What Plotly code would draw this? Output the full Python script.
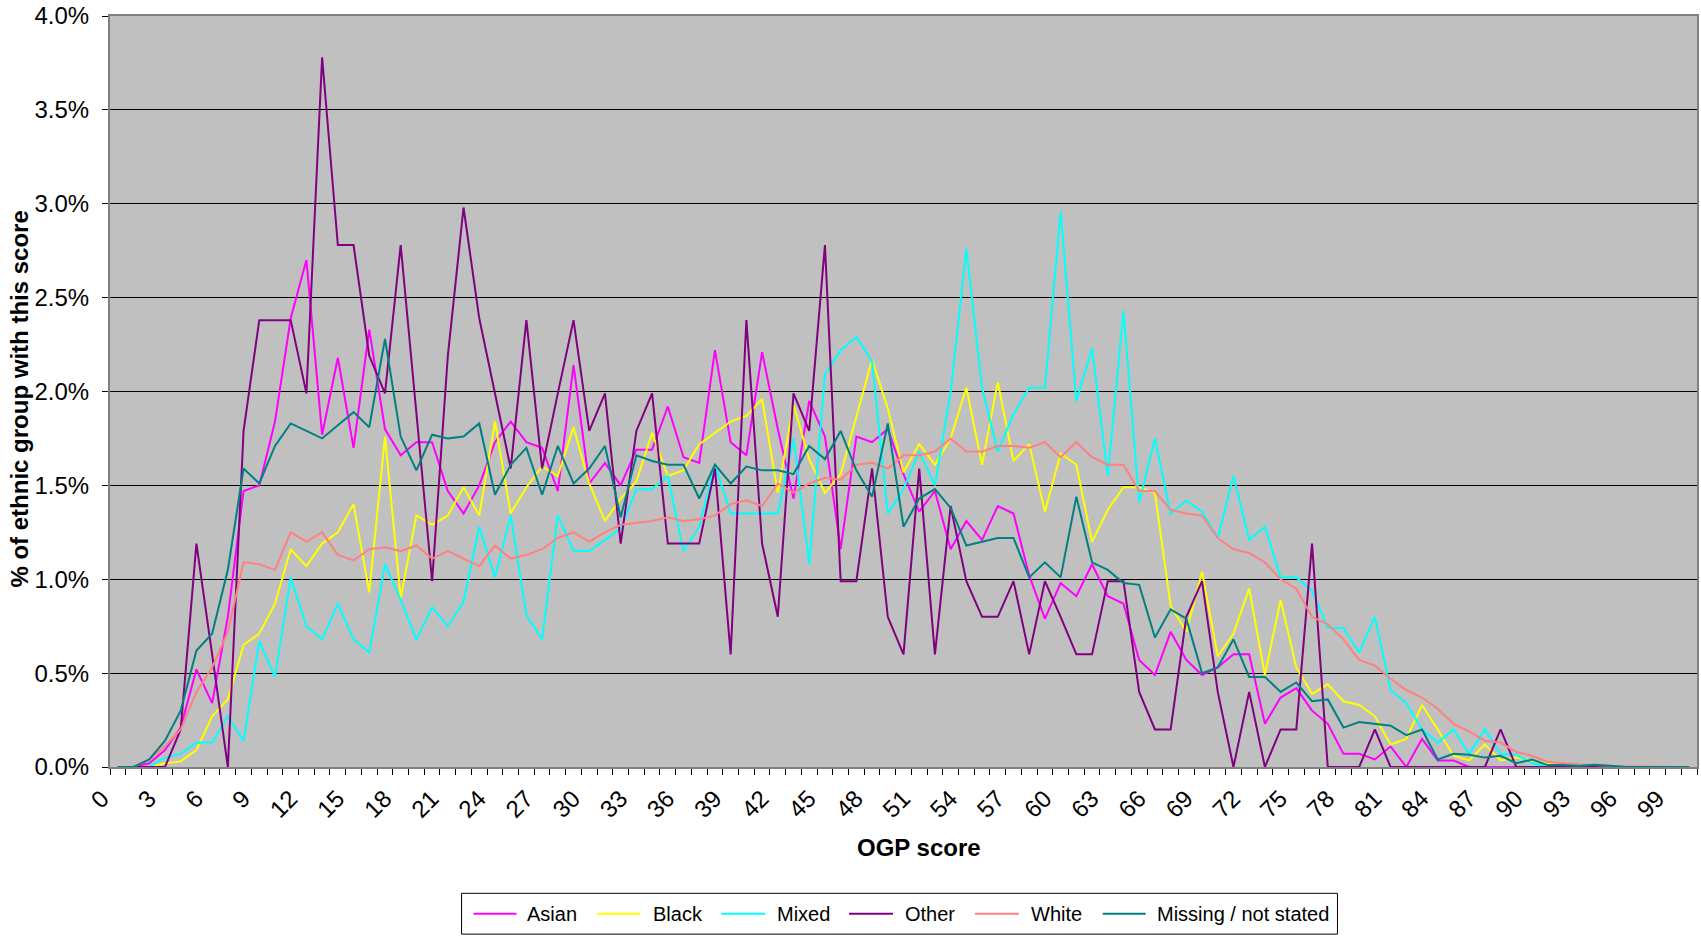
import plotly.graph_objects as go

# OGP score categories 0..100
scores = list(range(101))
tick_scores = list(range(0, 100, 3))
tick_labels = [str(v) for v in tick_scores]

# % of ethnic group with each score (values in percent)
asian = [0, 0, 0.02, 0.09, 0.21, 0.52, 0.34, 0.80, 1.47, 1.50,
         1.84, 2.39, 2.70, 1.77, 2.18, 1.70, 2.33, 1.80, 1.66, 1.73,
         1.73, 1.47, 1.35, 1.50, 1.73, 1.84, 1.73, 1.70, 1.47, 2.14,
         1.51, 1.62, 1.50, 1.69, 1.69, 1.92, 1.65, 1.62, 2.22, 1.73,
         1.66, 2.21, 1.80, 1.43, 1.95, 1.76, 1.16, 1.76, 1.73, 1.80,
         1.56, 1.36, 1.47, 1.16, 1.31, 1.21, 1.39, 1.35, 1.02, 0.79,
         0.98, 0.91, 1.08, 0.91, 0.87, 0.57, 0.49, 0.72, 0.57, 0.49,
         0.53, 0.60, 0.60, 0.23, 0.37, 0.42, 0.30, 0.23, 0.07, 0.07,
         0.04, 0.11, 0.00, 0.15, 0.035, 0.035, 0, 0, 0, 0,
         0, 0, 0, 0, 0, 0, 0, 0, 0, 0, 0]

black = [0, 0, 0, 0.02, 0.03, 0.09, 0.27, 0.36, 0.65, 0.71,
         0.87, 1.16, 1.07, 1.19, 1.25, 1.40, 0.93, 1.76, 0.90, 1.34,
         1.29, 1.34, 1.49, 1.34, 1.84, 1.35, 1.49, 1.60, 1.55, 1.81,
         1.51, 1.31, 1.43, 1.52, 1.78, 1.55, 1.58, 1.72, 1.78, 1.84,
         1.87, 1.96, 1.46, 1.93, 1.64, 1.46, 1.56, 1.86, 2.17, 1.91,
         1.57, 1.72, 1.61, 1.75, 2.02, 1.61, 2.05, 1.63, 1.72, 1.36,
         1.67, 1.61, 1.20, 1.37, 1.49, 1.49, 1.46, 0.86, 0.72, 1.04,
         0.59, 0.71, 0.95, 0.49, 0.89, 0.53, 0.39, 0.44, 0.35, 0.33,
         0.27, 0.12, 0.15, 0.33, 0.20, 0.06, 0.035, 0.12, 0.035, 0.05,
         0.035, 0.018, 0.01, 0, 0, 0, 0, 0, 0, 0, 0]

mixed = [0, 0, 0, 0.05, 0.07, 0.13, 0.13, 0.27, 0.14, 0.67,
         0.48, 1.01, 0.75, 0.68, 0.87, 0.68, 0.61, 1.08, 0.89, 0.68,
         0.85, 0.75, 0.88, 1.28, 1.01, 1.34, 0.81, 0.68, 1.34, 1.15,
         1.15, 1.21, 1.27, 1.48, 1.48, 1.55, 1.15, 1.28, 1.61, 1.35,
         1.35, 1.35, 1.35, 1.75, 1.08, 2.09, 2.22, 2.29, 2.16, 1.35,
         1.48, 1.68, 1.50, 2.00, 2.76, 2.02, 1.68, 1.88, 2.02, 2.02,
         2.96, 1.95, 2.23, 1.55, 2.43, 1.41, 1.75, 1.35, 1.42, 1.36,
         1.22, 1.55, 1.21, 1.28, 1.01, 1.01, 0.94, 0.74, 0.74, 0.61,
         0.80, 0.41, 0.34, 0.20, 0.13, 0.20, 0.07, 0.20, 0.07, 0.065,
         0.02, 0, 0, 0, 0, 0, 0, 0, 0, 0, 0]

other = [0, 0, 0, 0, 0.20, 1.19, 0.60, 0, 1.79, 2.38,
         2.38, 2.38, 1.99, 3.78, 2.78, 2.78, 2.19, 1.99, 2.78, 1.89,
         0.99, 2.19, 2.98, 2.39, 1.99, 1.59, 2.38, 1.59, 1.99, 2.38,
         1.79, 1.99, 1.19, 1.79, 1.99, 1.19, 1.19, 1.19, 1.59, 0.60,
         2.38, 1.19, 0.80, 1.99, 1.79, 2.78, 0.99, 0.99, 1.59, 0.80,
         0.60, 1.59, 0.60, 1.39, 0.99, 0.80, 0.80, 0.99, 0.60, 0.99,
         0.80, 0.60, 0.60, 0.99, 0.99, 0.40, 0.20, 0.20, 0.80, 0.99,
         0.40, 0, 0.40, 0, 0.20, 0.20, 1.19, 0, 0, 0,
         0.20, 0, 0, 0, 0, 0, 0, 0, 0.20, 0,
         0, 0, 0, 0, 0, 0, 0, 0, 0, 0, 0]

white = [0, 0, 0.04, 0.11, 0.20, 0.40, 0.53, 0.72, 1.09, 1.08,
         1.05, 1.25, 1.20, 1.25, 1.13, 1.10, 1.16, 1.17, 1.15, 1.18,
         1.11, 1.15, 1.11, 1.07, 1.18, 1.11, 1.13, 1.16, 1.22, 1.25,
         1.20, 1.25, 1.29, 1.30, 1.31, 1.33, 1.31, 1.32, 1.34, 1.40,
         1.42, 1.39, 1.51, 1.46, 1.51, 1.54, 1.53, 1.61, 1.62, 1.59,
         1.66, 1.66, 1.68, 1.75, 1.68, 1.68, 1.71, 1.71, 1.70, 1.73,
         1.65, 1.73, 1.65, 1.61, 1.61, 1.47, 1.47, 1.37, 1.35, 1.34,
         1.22, 1.16, 1.14, 1.09, 1.00, 0.95, 0.80, 0.76, 0.68, 0.57,
         0.54, 0.47, 0.41, 0.37, 0.31, 0.23, 0.19, 0.14, 0.13, 0.08,
         0.06, 0.027, 0.02, 0.014, 0.01, 0.005, 0.003, 0.002, 0.001, 0, 0]

missing = [0, 0, 0.04, 0.14, 0.30, 0.62, 0.71, 1.05, 1.59, 1.51,
           1.71, 1.83, 1.79, 1.75, 1.82, 1.89, 1.81, 2.28, 1.76, 1.58,
           1.77, 1.75, 1.76, 1.83, 1.45, 1.61, 1.70, 1.45, 1.71, 1.51,
           1.59, 1.71, 1.33, 1.66, 1.63, 1.61, 1.61, 1.43, 1.61, 1.51,
           1.60, 1.58, 1.58, 1.56, 1.71, 1.64, 1.79, 1.58, 1.44, 1.83,
           1.28, 1.43, 1.48, 1.38, 1.18, 1.20, 1.22, 1.22, 1.01, 1.09,
           1.01, 1.44, 1.09, 1.05, 0.98, 0.97, 0.69, 0.84, 0.79, 0.50,
           0.53, 0.68, 0.48, 0.48, 0.40, 0.45, 0.35, 0.36, 0.21, 0.24,
           0.23, 0.22, 0.17, 0.20, 0.04, 0.07, 0.065, 0.05, 0.06, 0.02,
           0.04, 0.01, 0.01, 0.005, 0.012, 0.005, 0, 0, 0, 0, 0]

series_names = ["Asian", "Black", "Mixed", "Other", "White", "Missing / not stated"]
series_values = [asian, black, mixed, other, white, missing]
series_colors = ["#FF00FF", "#FFFF00", "#00FFFF", "#800080", "#FF8080", "#008080"]

FONT = "Arial, Liberation Sans, sans-serif"

# Page layout in pixels (body margin is removed so figure == page)
PAGE_W, PAGE_H = 1701, 938
PLOT_L, PLOT_R, PLOT_T, PLOT_B = 110, 1699, 12, 767


def paper_x(px):
    return (px - PLOT_L) / (PLOT_R - PLOT_L)


def paper_y(py):
    return (PLOT_B - py) / (PLOT_B - PLOT_T)


fig = go.Figure()
for name, vals, color in zip(series_names, series_values, series_colors):
    fig.add_trace(go.Scatter(
        x=scores, y=[v / 100 for v in vals], mode="lines", name=name,
        line=dict(color=color, width=2), showlegend=False))

# Legend drawn like the original: box, line samples, labels
legend_line_x = [(474, 517), (598, 641), (722, 766), (850, 894), (976, 1020), (1104, 1147)]
legend_text_x = [527, 653, 777, 905, 1031, 1157]
LEG_BOX = (462, 1339, 894, 935)
LEG_Y = 914.5

shapes = [dict(type="rect", xref="paper", yref="paper",
               x0=paper_x(LEG_BOX[0]), x1=paper_x(LEG_BOX[1]),
               y0=paper_y(LEG_BOX[3]), y1=paper_y(LEG_BOX[2]),
               line=dict(color="black", width=1), fillcolor="white", layer="above")]
annotations = []
for name, color, (lx0, lx1), tx in zip(series_names, series_colors, legend_line_x, legend_text_x):
    shapes.append(dict(type="line", xref="paper", yref="paper",
                       x0=paper_x(lx0), x1=paper_x(lx1), y0=paper_y(LEG_Y), y1=paper_y(LEG_Y),
                       line=dict(color=color, width=2), layer="above"))
    annotations.append(dict(text=name, showarrow=False, xref="paper", yref="paper",
                            x=paper_x(tx - 1), y=paper_y(LEG_Y), xanchor="left", yanchor="middle",
                            font=dict(family=FONT, size=20, color="black")))

annotations += [
    dict(text="% of ethnic group with this score", textangle=-90, showarrow=False,
         xref="paper", yref="paper", x=paper_x(19.5), y=paper_y(397), xanchor="center", yanchor="middle",
         font=dict(family=FONT, size=24, color="black", weight="bold")),
    dict(text="OGP score", showarrow=False, xref="paper", yref="paper",
         x=paper_x(920), y=paper_y(848), xanchor="center", yanchor="middle",
         font=dict(family=FONT, size=24, color="black", weight="bold")),
]

fig.update_layout(
    width=PAGE_W, height=PAGE_H, autosize=False,
    margin=dict(l=PLOT_L, r=PAGE_W - PLOT_R, t=PLOT_T, b=PAGE_H - PLOT_B),
    paper_bgcolor="white", plot_bgcolor="#C0C0C0",
    font=dict(family=FONT, color="black"),
    showlegend=False,
    xaxis=dict(range=[-0.5, 100.5], tickmode="array", tickvals=tick_scores, ticktext=tick_labels,
               tickangle=-45, ticks="", showgrid=False, zeroline=False,
               showline=True, linecolor="#808080", linewidth=2, mirror=True,
               ticklabelshift=-16, ticklabelstandoff=6,
               tickfont=dict(family=FONT, size=24, color="black"),
               minor=dict(ticks="outside", ticklen=6, tickcolor="black", tickwidth=1,
                          tickmode="linear", tick0=-0.5, dtick=1, showgrid=False)),
    yaxis=dict(range=[0, 0.04], tickmode="array",
               tickvals=[0, 0.005, 0.01, 0.015, 0.02, 0.025, 0.03, 0.035, 0.04],
               tickformat=".1%", ticklabeloverflow="allow",
               showgrid=True, gridcolor="black", gridwidth=1, zeroline=False,
               showline=True, linecolor="#808080", linewidth=2, mirror=True,
               ticks="outside", ticklen=6, tickcolor="black", ticklabelstandoff=8,
               tickfont=dict(family=FONT, size=24, color="black")),
    shapes=shapes,
    annotations=annotations,
)

fig.write_html("out.html", config={"displayModeBar": False},
               post_script="document.body.style.margin='0';document.body.style.overflow='hidden';")
